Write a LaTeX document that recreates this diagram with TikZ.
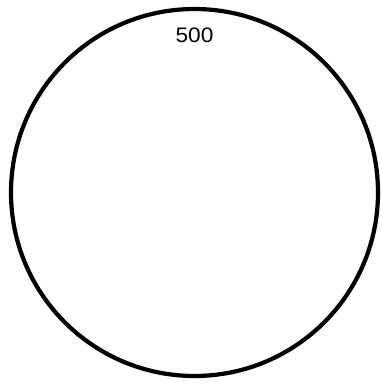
\documentclass[tikz,border=0pt]{standalone}
\usepackage{fontspec}
\setmainfont{Liberation Sans}
\begin{document}
\begin{tikzpicture}[x=1pt,y=1pt,
  ring/.style={draw=black,line width=4.2pt},
  lbl/.style={font=\fontsize{21}{25}\selectfont,inner sep=0pt,xscale=1.08}]
\useasboundingbox (0,0) rectangle (381,386);
\node[ring,circle,minimum size=367pt,inner sep=0pt] (c) at (194.5,193.5) {};
\node[lbl] (t) at (194.5,351) {500};
\end{tikzpicture}
\end{document}
